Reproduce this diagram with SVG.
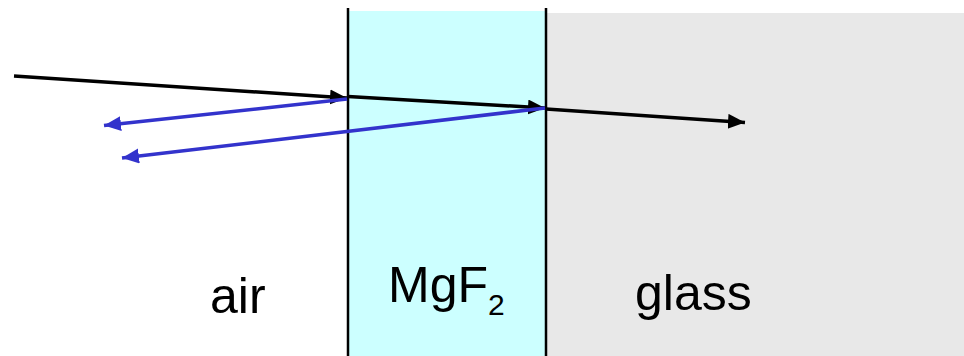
<svg xmlns="http://www.w3.org/2000/svg" width="964" height="356" viewBox="0 0 964 356">
  <style>
    .label { font-family: "Liberation Sans", Arial, sans-serif; font-size: 50px; fill: #000; }
    .sub { font-size: 30px; }
    .wall { stroke: #000; stroke-width: 2.5; fill: none; }
    .ray { stroke: #000; stroke-width: 3.5; fill: none; marker-end: url(#ahBlack); }
    .refl { stroke: #3333CC; stroke-width: 3.5; fill: none; marker-end: url(#ahBlue); }
  </style>
  <defs>
    <marker id="ahBlack" markerUnits="userSpaceOnUse" markerWidth="18" markerHeight="16" refX="17" refY="7.5" orient="auto">
      <path d="M0,0 L17,7.5 L0,15 z" fill="#000"/>
    </marker>
    <marker id="ahBlue" markerUnits="userSpaceOnUse" markerWidth="18" markerHeight="16" refX="17" refY="7.5" orient="auto">
      <path d="M0,0 L17,7.5 L0,15 z" fill="#3333CC"/>
    </marker>
  </defs>
  <rect width="964" height="356" fill="#fff"/>
  <g id="glass">
    <rect x="546" y="13" width="418" height="343" fill="#E8E8E8"/>
    <text class="label" x="635" y="310">glass</text>
  </g>
  <g id="mgf2">
    <rect x="348" y="11" width="198" height="345" fill="#CCFFFF"/>
    <text class="label" x="388" y="302">MgF<tspan class="sub" dy="13">2</tspan></text>
  </g>
  <g id="air">
    <text class="label" x="210" y="313">air</text>
  </g>
  <g id="interfaces">
    <line class="wall" x1="348" y1="8" x2="348" y2="356"/>
    <line class="wall" x1="546" y1="8" x2="546" y2="356"/>
  </g>
  <g id="connectors">
    <line class="ray" x1="14" y1="76" x2="347" y2="98"/>
    <line class="ray" x1="348" y1="96.5" x2="545" y2="108"/>
    <line class="ray" x1="546" y1="109" x2="745" y2="122.5"/>
    <line class="refl" x1="347" y1="99" x2="104" y2="125.5"/>
    <line class="refl" x1="545" y1="108" x2="122" y2="158"/>
  </g>
</svg>
